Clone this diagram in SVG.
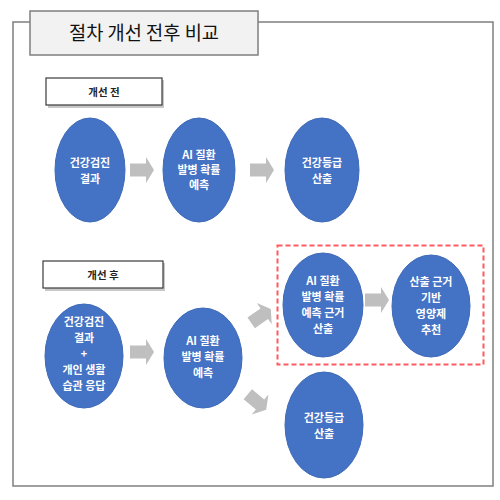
<svg xmlns="http://www.w3.org/2000/svg" width="500" height="500" viewBox="0 0 500 500">
<style>
.frame{fill:#ffffff;stroke:#7f7f7f;stroke-width:1.5}
.lbl{fill:#ffffff;stroke:#3a3a3a;stroke-width:1.2}
.shadow{fill:#c8c8c8}
.node{fill:#4472c4;stroke:#3f6ab8;stroke-width:1}
.nt{font-family:"Noto Sans CJK KR","Liberation Sans",sans-serif;font-size:11px;font-weight:bold;fill:#ffffff;text-anchor:middle}
.lt{font-family:"Noto Sans CJK KR","Liberation Sans",sans-serif;font-size:10.5px;font-weight:bold;fill:#222222;text-anchor:middle}
.arr{fill:#bfbfbf}
</style>
<defs>
<path id="ar" d="M-12,-6.5 H4 V-13 L12,0 L4,13 V6.5 H-12 Z"/>
</defs>
<rect width="500" height="500" fill="#ffffff"/>
<rect class="frame" x="13" y="22" width="480" height="464"/>
<g id="title">
<rect x="30" y="11" width="228" height="44" fill="#f2f2f2" stroke="#7f7f7f" stroke-width="1.5"/>
<text x="144" y="40" font-family="Noto Sans CJK KR,Liberation Serif,serif" font-size="19" fill="#111111" text-anchor="middle" textLength="150" lengthAdjust="spacingAndGlyphs">절차 개선 전후 비교</text>
</g>
<g id="label-before">
<rect class="shadow" x="48" y="80" width="116" height="28"/>
<rect class="lbl" x="46" y="78" width="116" height="27"/>
<text class="lt" x="104" y="95.5">개선 전</text>
</g>
<g id="label-after">
<rect class="shadow" x="45" y="263" width="120" height="28"/>
<rect class="lbl" x="43" y="261" width="120" height="27"/>
<text class="lt" x="103" y="278.5">개선 후</text>
</g>
<g id="connectors">
<use href="#ar" class="arr" transform="translate(142,170)"/>
<use href="#ar" class="arr" transform="translate(262,170)"/>
<use href="#ar" class="arr" transform="translate(142,352)"/>
<use href="#ar" class="arr" transform="translate(377,300)"/>
<use href="#ar" class="arr" transform="translate(261,316) rotate(-35)"/>
<use href="#ar" class="arr" transform="translate(257,402) rotate(40)"/>
</g>
<g id="n1">
<ellipse class="node" cx="90" cy="170" rx="35" ry="52"/>
<text class="nt" x="90" y="167">건강검진</text>
<text class="nt" x="90" y="183">결과</text>
</g>
<g id="n2">
<ellipse class="node" cx="199" cy="170" rx="36" ry="52"/>
<text class="nt" x="199" y="159">AI 질환</text>
<text class="nt" x="199" y="174">발병 확률</text>
<text class="nt" x="199" y="189">예측</text>
</g>
<g id="n3">
<ellipse class="node" cx="322" cy="170" rx="37" ry="52"/>
<text class="nt" x="322" y="167">건강등급</text>
<text class="nt" x="322" y="183">산출</text>
</g>
<g id="group-box">
<rect x="277.5" y="245.5" width="206" height="119" fill="none" stroke="#ff5a5f" stroke-width="2" stroke-dasharray="5,3"/>
</g>
<g id="n4">
<ellipse class="node" cx="84" cy="356" rx="39" ry="52"/>
<text class="nt" x="84" y="326">건강검진</text>
<text class="nt" x="84" y="342">결과</text>
<text class="nt" x="84" y="358">+</text>
<text class="nt" x="84" y="374">개인 생활</text>
<text class="nt" x="84" y="390">습관 응답</text>
</g>
<g id="n5">
<ellipse class="node" cx="203" cy="358" rx="39" ry="50"/>
<text class="nt" x="203" y="345">AI 질환</text>
<text class="nt" x="203" y="361">발병 확률</text>
<text class="nt" x="203" y="377">예측</text>
</g>
<g id="n6">
<ellipse class="node" cx="323" cy="305" rx="40" ry="52"/>
<text class="nt" x="323" y="285">AI 질환</text>
<text class="nt" x="323" y="301">발병 확률</text>
<text class="nt" x="323" y="317">예측 근거</text>
<text class="nt" x="323" y="333">산출</text>
</g>
<g id="n7">
<ellipse class="node" cx="431" cy="306" rx="39" ry="51"/>
<text class="nt" x="431" y="286">산출 근거</text>
<text class="nt" x="431" y="302">기반</text>
<text class="nt" x="431" y="318">영양제</text>
<text class="nt" x="431" y="334">추천</text>
</g>
<g id="n8">
<ellipse class="node" cx="324" cy="425" rx="39" ry="53"/>
<text class="nt" x="324" y="422">건강등급</text>
<text class="nt" x="324" y="438">산출</text>
</g>
</svg>
